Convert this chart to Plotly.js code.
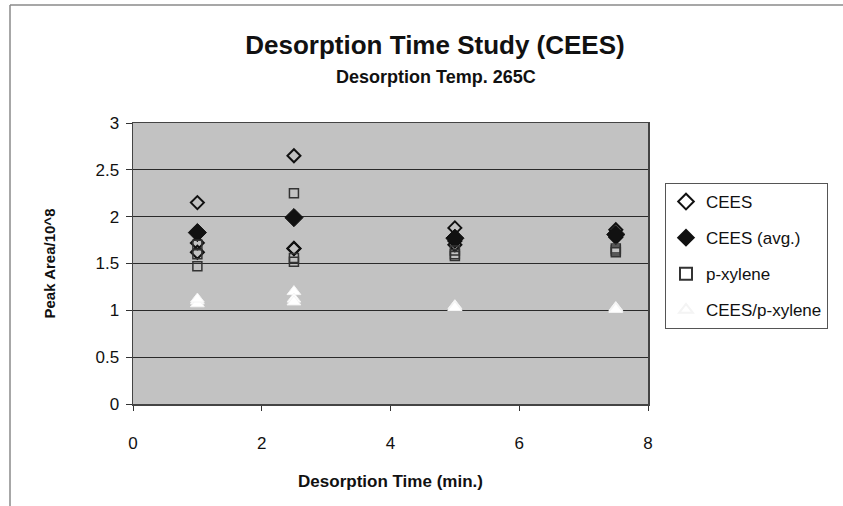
<!DOCTYPE html>
<html>
<head>
<meta charset="utf-8">
<script src="https://cdn.plot.ly/plotly-3.0.1.min.js"></script>
<style>
  html, body { margin: 0; padding: 0; background: #ffffff; }
  #chart { width: 843px; height: 506px; }
</style>
</head>
<body>
<div id="chart"></div>
<script>
// Desorption times (min.) for each replicate
const timeReplicates = [1, 1, 1, 2.5, 2.5, 2.5, 5, 5, 5, 7.5, 7.5, 7.5];
// CEES peak area (x10^8), individual replicates
const ceesValues = [2.15, 1.72, 1.62, 2.65, 1.66, 1.66, 1.88, 1.74, 1.70, 1.86, 1.80, 1.78];
// Averages
const timeAvg = [1, 2.5, 5, 7.5];
const ceesAvg = [1.83, 1.99, 1.77, 1.81];
// p-xylene peak area (x10^8)
const xyleneValues = [1.70, 1.60, 1.47, 2.25, 1.56, 1.52, 1.64, 1.60, 1.58, 1.66, 1.64, 1.62];
// CEES / p-xylene ratio
const ratioValues = [1.10, 1.07, 1.12, 1.20, 1.12, 1.09, 1.05, 1.03, 1.03, 1.03, 1.02, 1.01];

const seriesNames = ["CEES", "CEES (avg.)", "p-xylene", "CEES/p-xylene"];

const FONT = "Liberation Sans, Arial, sans-serif";

const traces = [
  {
    x: timeReplicates, y: ceesValues, name: seriesNames[0], type: "scatter", mode: "markers",
    legendgroup: "a",
    marker: { symbol: "diamond-open", size: 10, color: "#111111", line: { width: 2, color: "#111111" } }
  },
  {
    x: timeAvg, y: ceesAvg, name: seriesNames[1], type: "scatter", mode: "markers",
    legendgroup: "b",
    marker: { symbol: "diamond", size: 14, color: "#111111", line: { width: 1, color: "#111111" } }
  },
  {
    x: timeReplicates, y: xyleneValues, name: seriesNames[2], type: "scatter", mode: "markers",
    legendgroup: "c",
    marker: { symbol: "square-open", size: 9, color: "#333333", line: { width: 1.5, color: "#333333" } }
  },
  {
    x: timeReplicates, y: ratioValues, name: seriesNames[3], type: "scatter", mode: "markers",
    legendgroup: "d",
    marker: { symbol: "triangle-up", size: 12, color: "#ffffff", line: { width: 1, color: "#f4f4f4" } }
  }
];

// Plot area in pixels: x 133..648, y 123..404
const L = 133, R = 843 - 648, T = 123, B = 506 - 404;
const pw = 843 - L - R, ph = 506 - T - B;
const px = v => (v - L) / pw;
const py = v => (506 - B - v) / ph;

const layout = {
  width: 843, height: 506,
  margin: { l: L, r: R, t: T, b: B, pad: 0 },
  paper_bgcolor: "#ffffff",
  plot_bgcolor: "#c2c2c2",
  font: { family: FONT, color: "#111111", size: 17 },
  showlegend: true,
  title: {
    text: "<b>Desorption Time Study (CEES)</b>",
    font: { family: FONT, size: 26, color: "#111111" },
    xref: "container", yref: "container",
    x: 435 / 843, xanchor: "center",
    y: 1 - 45 / 506, yanchor: "middle"
  },
  annotations: [
    {
      text: "<b>Desorption Temp. 265C</b>",
      xref: "paper", yref: "paper",
      x: px(436), y: py(77), xanchor: "center", yanchor: "middle",
      showarrow: false,
      font: { family: FONT, size: 18, color: "#111111" }
    }
  ],
  xaxis: {
    range: [0, 8], dtick: 2, tick0: 0,
    ticks: "outside", ticklen: 5, tickcolor: "#333333",
    ticklabelstandoff: 18,
    showgrid: false, zeroline: false,
    showline: true, linecolor: "#444444", linewidth: 1.5, mirror: true,
    tickfont: { family: FONT, size: 17, color: "#111111" },
    automargin: false,
    title: {
      text: "<b>Desorption Time (min.)</b>",
      font: { family: FONT, size: 17, color: "#111111" },
      standoff: 23
    }
  },
  yaxis: {
    range: [0, 3], dtick: 0.5, tick0: 0,
    ticks: "outside", ticklen: 6, tickcolor: "#333333",
    ticklabelstandoff: 3,
    showgrid: true, gridcolor: "#2a2a2a", gridwidth: 1,
    zeroline: false,
    showline: true, linecolor: "#444444", linewidth: 1.5, mirror: true,
    tickfont: { family: FONT, size: 17, color: "#111111" },
    automargin: false,
    title: {
      text: "<b>Peak Area/10^8</b>",
      font: { family: FONT, size: 15, color: "#111111" },
      standoff: 36
    }
  },
  legend: {
    x: px(665), y: py(183), xanchor: "left", yanchor: "top",
    bgcolor: "#ffffff", bordercolor: "#555555", borderwidth: 1,
    font: { family: FONT, size: 17, color: "#111111" },
    tracegroupgap: 11,
    itemwidth: 30,
    itemsizing: "constant"
  },
  shapes: [
    // outer chart frame (top and left edges visible)
    { type: "line", xref: "paper", yref: "paper", x0: px(10), x1: px(843), y0: py(5), y1: py(5),
      line: { color: "#8a8a8a", width: 1.5 } },
    { type: "line", xref: "paper", yref: "paper", x0: px(10), x1: px(10), y0: py(5), y1: py(506),
      line: { color: "#8a8a8a", width: 1.5 } }
  ]
};

Plotly.newPlot("chart", traces, layout, { displayModeBar: false, staticPlot: true });
</script>
</body>
</html>
